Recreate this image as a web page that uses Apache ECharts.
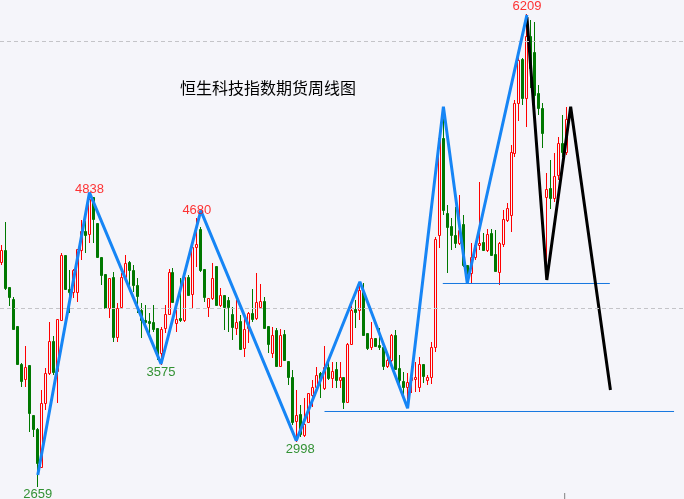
<!DOCTYPE html>
<html><head><meta charset="utf-8">
<script src="https://cdn.jsdelivr.net/npm/echarts@6/dist/echarts.min.js"></script>
<style>html,body{margin:0;padding:0;background:#f5f5fa;}#c{width:684px;height:499px;}</style>
</head><body><div id="c"></div><script>
// weekly candles (index 0 = partially visible first week)
const opens = [4348,4438,4160,4070,3868,3583,3470,3576,3200,3096,
2810,3290,3516,3756,3530,3913,4400,4146,4123,4123,
4438,4580,4558,4836,4640,4386,4258,4003,4236,3786,
4010,4236,4348,4288,4176,3988,3913,3906,3898,3853,
3666,3853,3958,4273,3890,3928,3913,4236,4108,4460,
4596,4296,4010,4078,4318,4026,4100,4063,3958,3853,
3906,3703,3853,3966,3928,4010,4056,3868,3666,3838,
3568,3808,3606,3486,3156,3208,3050,3148,3350,3410,
3516,3403,3560,3478,3546,3463,3486,3298,3733,3996,
3988,4123,3816,3710,3778,3726,3710,3568,3613,3800,
3553,3456,3410,3463,3470,3410,3583,3463,3486,3710,
4550,5278,4716,4618,4550,4490,4633,4326,4266,4386,
4476,4498,4438,4566,4408,4273,4483,4663,4700,5166,
5540,5870,5578,6043,5923,5616,5503,4836,4903,4828,
5000,5240,5173];
const closes = [4438,4153,4086,3846,3583,3456,3560,3216,3096,2840,
3290,3516,3756,3523,3920,4400,4146,4123,4288,4446,
4580,4550,4820,4670,4386,4250,4003,4228,3786,4003,
4236,4340,4288,4176,4093,3913,3898,3890,3846,3650,
3846,3958,4273,4048,3920,3913,4236,4100,4460,4483,
4288,4086,4078,4228,4026,4100,4010,4010,3860,3898,
3696,3846,3966,3920,4048,4056,3853,3733,3800,3568,
3800,3613,3486,3148,3200,3058,3133,3366,3410,3500,
3470,3560,3478,3530,3463,3486,3298,3733,3988,3973,
4138,3800,3703,3778,3718,3710,3568,3613,3800,3546,
3463,3410,3448,3486,3486,3583,3493,3486,3710,4520,
5278,4738,4610,4550,4490,4588,4326,4250,4386,4476,
4490,4438,4558,4400,4280,4490,4670,4753,5173,5540,
5863,5578,6043,5803,5600,5503,5316,4896,4828,4993,
5240,5173,5420];
const lows = [4325,4138,4018,3838,3583,3410,3410,3073,3036,2659,
2803,3238,3500,3500,3290,3906,4146,3966,4078,4048,
4363,4416,4490,4490,4378,4176,4003,3928,3748,3748,
4003,4228,4160,4123,3966,3778,3860,3816,3823,3613,
3575,3816,3950,4040,3823,3898,3898,4093,4003,4310,
4273,4048,3936,4063,4026,4010,3838,3823,3763,3800,
3688,3636,3740,3898,3913,4003,3846,3666,3628,3560,
3560,3606,3426,3126,2998,3036,3036,3140,3260,3403,
3328,3388,3463,3403,3403,3403,3246,3290,3726,3853,
3913,3793,3688,3688,3710,3688,3538,3553,3598,3546,
3410,3328,3253,3366,3373,3373,3440,3426,3433,3673,
4453,4700,4266,4438,4453,4476,4310,4190,4190,4363,
4438,4430,4423,4393,4273,4176,4460,4648,4573,5136,
5406,5526,5360,5653,5488,5450,5203,4310,4746,4798,
4963,5136,5150];
const highs = [4475,4648,4160,4086,3868,3590,3718,3576,3200,3103,
3388,3553,3898,3793,3920,4416,4400,4288,4296,4446,
4663,4656,4838,4836,4640,4386,4258,4228,4273,4040,
4266,4400,4356,4326,4228,4040,4026,3966,4026,3853,
3860,4026,4296,4303,3988,4228,4250,4250,4476,4680,
4610,4296,4078,4340,4318,4153,4100,4086,4010,4063,
3950,3950,3973,4146,4266,4183,4086,3868,3860,3853,
3846,3838,3606,3538,3388,3276,3328,3366,3463,3560,
3523,3718,3598,3598,3598,3598,3486,3740,4063,4063,
4198,4190,3816,3898,3778,3853,3710,3666,3808,3838,
3650,3523,3516,3568,3598,3636,3583,3500,3748,4536,
5323,5510,4776,4678,4760,4850,4700,4326,4490,4490,
4948,4566,4596,4596,4588,4498,4738,4790,5226,5563,
5886,5878,6209,6163,6148,5676,5540,5016,5113,5166,
5286,5450,5510];
const slotCount = 172;

// blue zig-zag (week index, value)
const zigX = [9, 22, 40, 50, 74, 90, 102, 111, 117, 132];
const zigV = [2750, 4868, 3583, 4733, 3008, 4200, 3251, 5513, 4188, 6201];
// black projection
const projX = [132, 137, 143, 153];
const projV = [6185, 4213, 5513, 3388];
// horizontal support lines
const sup1X = [110.85, 152.85]; const sup1V = 4186.5;
const sup2X = [81.1, 169];      const sup2V = 3226.4;
// turning point labels
const ptX = [9, 22, 40, 49, 75, 132];
const ptV = [2659, 4838, 3575, 4680, 2998, 6209];
const ptPeak = [false, true, false, true, false, true];
// dashed levels
const levels = [4000, 6000];
const tickX = 141.5; const tickV = [2570, 2615];

const BG = '#f5f5fa', UP = '#ff0000', DOWN = '#007800';
const cats = Array.from({length: slotCount}, (_, i) => 'W' + i);
const candleRows = opens.map((o, i) => [i, o, closes[i], lows[i], highs[i]]);

function renderCandle(params, api) {
  const i = api.value(0), o = api.value(1), c = api.value(2), l = api.value(3), h = api.value(4);
  const pO = api.coord([i, o]), pC = api.coord([i, c]);
  const pL = api.coord([i, l]), pH = api.coord([i, h]);
  const x = Math.floor(pO[0]) + 0.5;
  const up = c >= o;
  const col = up ? UP : DOWN;
  const top = Math.round(Math.min(pO[1], pC[1])) + 0.5;
  const bot = Math.max(Math.round(Math.max(pO[1], pC[1])) + 0.5, top + 1);
  return {
    type: 'group',
    children: [
      {type: 'line', shape: {x1: x, y1: Math.round(pH[1]), x2: x, y2: Math.round(pL[1])},
       style: {stroke: col, lineWidth: 1}},
      {type: 'rect', shape: {x: x - 1, y: top, width: 2, height: bot - top},
       style: {fill: up ? BG : col, stroke: col, lineWidth: 1}}
    ]
  };
}

const chart = echarts.init(document.getElementById('c'));
chart.setOption({
  animation: false,
  backgroundColor: BG,
  title: {
    text: '恒生科技指数期货周线图', left: 180, top: 80, padding: 0,
    textStyle: {fontFamily: 'Noto Sans CJK SC', fontSize: 16, fontWeight: 'normal', color: '#000'}
  },
  grid: {left: -2.5, right: -1.5, top: 0, bottom: 0},
  xAxis: [
    {type: 'category', data: cats, boundaryGap: true, show: false},
    {type: 'value', min: -0.5, max: slotCount - 0.5, show: false}
  ],
  yAxis: {type: 'value', min: 2570, max: 6313, show: false, splitLine: {show: false}},
  series: [
    {
      type: 'line', xAxisIndex: 1, data: [], silent: true,
      markLine: {
        silent: true, symbol: 'none', label: {show: false},
        lineStyle: {color: '#c4c4c8', type: [4, 3], width: 1},
        data: levels.map(v => ({yAxis: v}))
      },
      z: 1
    },
    {
      type: 'custom', data: candleRows, renderItem: renderCandle,
      encode: {x: 0, y: [1, 2, 3, 4]}, z: 2
    },
    {
      type: 'line', xAxisIndex: 1, data: zigX.map((x, i) => [x, zigV[i]]),
      symbol: 'none', lineStyle: {color: '#1685f5', width: 3}, z: 5
    },
    {
      type: 'line', xAxisIndex: 1, data: projX.map((x, i) => [x, projV[i]]),
      symbol: 'none', lineStyle: {color: '#000', width: 3}, z: 4
    },
    {
      type: 'line', xAxisIndex: 1, data: sup1X.map(x => [x, sup1V]),
      symbol: 'none', lineStyle: {color: '#1677e0', width: 1}, z: 3
    },
    {
      type: 'line', xAxisIndex: 1, data: sup2X.map(x => [x, sup2V]),
      symbol: 'none', lineStyle: {color: '#1677e0', width: 1}, z: 3
    },
    {
      type: 'line', xAxisIndex: 1, data: tickV.map(v => [tickX, v]),
      symbol: 'none', lineStyle: {color: '#808080', width: 1}, z: 3
    },
    {
      type: 'scatter', xAxisIndex: 1, symbolSize: 0, z: 6,
      data: ptX.map((x, i) => ({
        value: [x, ptV[i]],
        label: {
          show: true, formatter: String(ptV[i]),
          position: ptPeak[i] ? 'top' : 'bottom', distance: 1,
          color: ptPeak[i] ? UP : DOWN,
          fontFamily: 'Liberation Sans', fontSize: 13
        }
      }))
    }
  ]
});
</script></body></html>
